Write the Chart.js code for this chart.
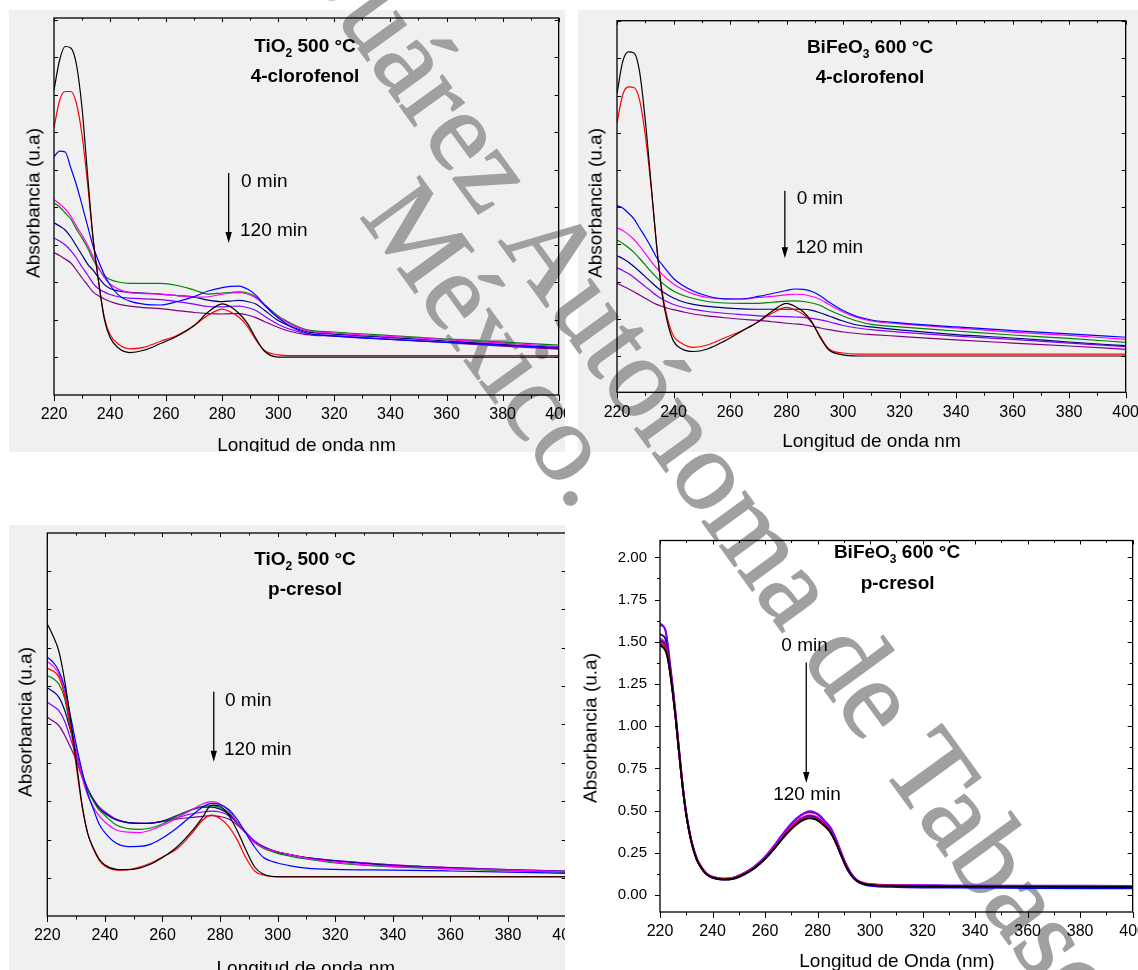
<!DOCTYPE html>
<html>
<head>
<meta charset="utf-8">
<script src="https://cdn.jsdelivr.net/npm/chart.js@4.4.1/dist/chart.umd.min.js"></script>
<style>
  html, body { margin: 0; padding: 0; background: #fff; }
  body { width: 1138px; height: 970px; position: relative; overflow: hidden;
         font-family: "Liberation Sans", Arial, sans-serif; }
  .bg { position: absolute; background: #f0f0f0; z-index: 0; }
  .wm { position: absolute; width: 0; height: 0; transform: rotate(54deg); transform-origin: 0 0; z-index: 1; }
  .wm span { position: absolute; bottom: -18.7px; white-space: nowrap; line-height: 1;
             font-family: "Liberation Serif", "Times New Roman", serif; font-size: 115px; color: #a0a0a0;
             -webkit-text-stroke: 1.5px #a0a0a0; }
  .panel { position: absolute; overflow: hidden; z-index: 2; }
  .panel canvas { position: absolute; left: 0; top: 0; }
  .t { position: absolute; white-space: nowrap; color: #000; font-size: 19px; line-height: 1; }
  .c { transform: translateX(-50%); }
  .b { font-weight: bold; }
  .yt { transform: translate(-50%, -50%) rotate(-90deg); }
  sub { font-size: 12px; vertical-align: -5px; line-height: 0; }
</style>
</head>
<body>

<!-- panel backgrounds (bottom-right panel has none) -->
<div class="bg" style="left:9px;top:10px;width:556px;height:442px"></div>
<div class="bg" style="left:578px;top:10px;width:560px;height:442px"></div>
<div class="bg" style="left:9px;top:525px;width:556px;height:445px"></div>

<!-- watermark, under the plots -->
<div class="wm" style="left:497.6px;top:241.3px">
  <span style="right:0;padding-right:0.25em">Universidad Juárez</span>
  <span style="left:0">Autónoma de Tabasco</span>
</div>
<div class="wm" style="left:358.7px;top:216.3px">
  <span style="left:0;font-size:111px;bottom:-18px">México.</span>
</div>

<div class="panel" style="left:9px;top:10px;width:556px;height:442px">
  <canvas id="c1" width="575" height="442"></canvas>
  <div class="t b c" style="left:296px;top:26px">TiO<sub>2</sub> 500 °C</div>
  <div class="t b c" style="left:296px;top:56px">4-clorofenol</div>
  <div class="t" style="left:232px;top:161px">0 min</div>
  <div class="t" style="left:231px;top:210px">120 min</div>
  <div class="t c" style="left:297.5px;top:424.5px">Longitud de onda nm</div>
  <div class="t yt" style="left:24px;top:193px">Absorbancia (u.a)</div>
</div>

<div class="panel" style="left:578px;top:10px;width:560px;height:442px">
  <canvas id="c2" width="573" height="442"></canvas>
  <div class="t b c" style="left:292px;top:27px">BiFeO<sub>3</sub> 600 °C</div>
  <div class="t b c" style="left:292px;top:57px">4-clorofenol</div>
  <div class="t" style="left:218.7px;top:178px">0 min</div>
  <div class="t" style="left:217.5px;top:226.7px">120 min</div>
  <div class="t c" style="left:293.5px;top:420.5px">Longitud de onda nm</div>
  <div class="t yt" style="left:17px;top:193px">Absorbancia (u.a)</div>
</div>

<div class="panel" style="left:9px;top:525px;width:556px;height:445px">
  <canvas id="c3" width="582" height="445"></canvas>
  <div class="t b c" style="left:296px;top:24.3px">TiO<sub>2</sub> 500 °C</div>
  <div class="t b c" style="left:296px;top:54.3px">p-cresol</div>
  <div class="t" style="left:216px;top:164.6px">0 min</div>
  <div class="t" style="left:215px;top:214.3px">120 min</div>
  <div class="t c" style="left:296.8px;top:432.5px">Longitud de onda nm</div>
  <div class="t yt" style="left:16px;top:197px">Absorbancia (u.a)</div>
</div>

<div class="panel" style="left:575px;top:520px;width:563px;height:450px">
  <canvas id="c4" width="583" height="450"></canvas>
  <div class="t b c" style="left:322px;top:21.6px">BiFeO<sub>3</sub> 600 °C</div>
  <div class="t b c" style="left:322.6px;top:52.6px">p-cresol</div>
  <div class="t c" style="left:229.6px;top:115px">0 min</div>
  <div class="t c" style="left:232px;top:264px">120 min</div>
  <div class="t c" style="left:322px;top:430.5px">Longitud de Onda (nm)</div>
  <div class="t yt" style="left:15px;top:208px">Absorbancia (u.a)</div>
</div>

<script>
// curve colours, first spectrum (0 min) to last (120 min)
const CURVE_COLORS = ["#000000", "#ff0000", "#0000ff", "#ff00ff", "#008000", "#000080", "#8000ff", "#800080"];

// wavelength axis
const X_TICKS = [220, 240, 260, 280, 300, 320, 340, 360, 380, 400];
const X_MINOR = [230, 250, 270, 290, 310, 330, 350, 370, 390];
const Y_TICKS = [0, 0.25, 0.5, 0.75, 1.0, 1.25, 1.5, 1.75, 2.0, 2.25];
const Y_MINOR_D = [0.125, 0.375, 0.625, 0.875, 1.125, 1.375, 1.625, 1.875];

// ---- TiO2 500 °C, 4-clorofenol (arbitrary units) ----
const NM_A = [220, 222, 224, 226, 228, 230, 232, 234, 236, 238, 240, 243, 247, 252, 258, 264,
              270, 275, 280, 283, 286, 289, 292, 295, 300, 305, 310, 320, 340, 360, 380, 400];
const tio2Cloro_black   = [1.78, 1.98, 2.07, 2.06, 1.95, 1.66, 1.21, 0.78, 0.49, 0.25, 0.13, 0.06, 0.03, 0.045, 0.09, 0.14,
                           0.21, 0.30, 0.355, 0.335, 0.29, 0.225, 0.125, 0.04, 0, 0, 0, 0, 0, 0, 0, 0];
const tio2Cloro_red     = [1.53, 1.71, 1.77, 1.77, 1.69, 1.48, 1.15, 0.78, 0.49, 0.26, 0.15, 0.085, 0.055, 0.065, 0.105, 0.145,
                           0.21, 0.28, 0.32, 0.30, 0.265, 0.205, 0.115, 0.045, 0.015, 0.01, 0.01, 0.01, 0.01, 0.01, 0.01, 0.01];
const tio2Cloro_blue    = [1.335, 1.373, 1.367, 1.26, 1.147, 1.013, 0.873, 0.735, 0.633, 0.547, 0.48, 0.413, 0.373, 0.353, 0.347, 0.37,
                           0.403, 0.44, 0.463, 0.471, 0.473, 0.453, 0.413, 0.347, 0.26, 0.197, 0.16, 0.14, 0.117, 0.097, 0.08, 0.063];
const tio2Cloro_magenta = [1.051, 1.02, 0.987, 0.94, 0.873, 0.813, 0.747, 0.667, 0.593, 0.527, 0.487, 0.453, 0.43, 0.423, 0.42, 0.41,
                           0.40, 0.402, 0.42, 0.427, 0.43, 0.42, 0.393, 0.347, 0.267, 0.213, 0.177, 0.16, 0.137, 0.117, 0.093, 0.07];
const tio2Cloro_green   = [1.027, 1.0, 0.96, 0.92, 0.853, 0.793, 0.727, 0.647, 0.587, 0.54, 0.517, 0.50, 0.491, 0.491, 0.491, 0.477,
                           0.447, 0.42, 0.427, 0.43, 0.435, 0.427, 0.402, 0.353, 0.273, 0.22, 0.183, 0.167, 0.143, 0.12, 0.10, 0.08];
const tio2Cloro_navy    = [0.895, 0.873, 0.847, 0.80, 0.74, 0.68, 0.62, 0.577, 0.527, 0.483, 0.457, 0.44, 0.431, 0.427, 0.42, 0.41,
                           0.40, 0.38, 0.37, 0.373, 0.378, 0.37, 0.353, 0.313, 0.243, 0.20, 0.17, 0.153, 0.13, 0.107, 0.083, 0.06];
const tio2Cloro_violet  = [0.793, 0.773, 0.747, 0.71, 0.66, 0.60, 0.547, 0.49, 0.453, 0.433, 0.417, 0.402, 0.393, 0.388, 0.383, 0.37,
                           0.353, 0.337, 0.335, 0.338, 0.34, 0.33, 0.31, 0.273, 0.217, 0.18, 0.157, 0.143, 0.12, 0.10, 0.08, 0.06];
const tio2Cloro_purple  = [0.695, 0.677, 0.653, 0.627, 0.58, 0.527, 0.48, 0.433, 0.407, 0.387, 0.37, 0.353, 0.34, 0.33, 0.323, 0.31,
                           0.297, 0.29, 0.287, 0.289, 0.29, 0.28, 0.263, 0.237, 0.197, 0.167, 0.15, 0.14, 0.117, 0.097, 0.073, 0.053];

// ---- BiFeO3 600 °C, 4-clorofenol (same wavelengths) ----
const bfoCloro_black   = [1.765, 1.976, 2.043, 2.036, 1.909, 1.586, 1.169, 0.746, 0.41, 0.215, 0.10, 0.047, 0.03, 0.047, 0.10, 0.165,
                          0.23, 0.302, 0.353, 0.333, 0.296, 0.228, 0.121, 0.04, 0.007, 0, 0, 0, 0, 0, 0, 0];
const bfoCloro_red     = [1.568, 1.754, 1.808, 1.804, 1.72, 1.485, 1.149, 0.746, 0.43, 0.242, 0.134, 0.084, 0.058, 0.074, 0.121, 0.168,
                          0.23, 0.289, 0.327, 0.309, 0.279, 0.222, 0.128, 0.047, 0.02, 0.013, 0.013, 0.013, 0.013, 0.013, 0.013, 0.013];
const bfoCloro_blue    = [1.01, 0.995, 0.961, 0.921, 0.86, 0.80, 0.733, 0.662, 0.612, 0.565, 0.521, 0.477, 0.437, 0.403, 0.384, 0.383,
                          0.40, 0.42, 0.44, 0.45, 0.448, 0.433, 0.403, 0.363, 0.306, 0.265, 0.242, 0.222, 0.195, 0.171, 0.148, 0.126];
const bfoCloro_magenta = [0.862, 0.843, 0.817, 0.783, 0.739, 0.69, 0.638, 0.591, 0.548, 0.514, 0.484, 0.45, 0.417, 0.393, 0.383, 0.383,
                          0.393, 0.401, 0.411, 0.415, 0.413, 0.40, 0.38, 0.346, 0.296, 0.259, 0.235, 0.216, 0.188, 0.161, 0.138, 0.112];
const bfoCloro_green   = [0.78, 0.756, 0.729, 0.696, 0.655, 0.612, 0.568, 0.528, 0.491, 0.46, 0.437, 0.41, 0.386, 0.366, 0.356, 0.353,
                          0.354, 0.361, 0.368, 0.37, 0.366, 0.356, 0.339, 0.309, 0.269, 0.235, 0.212, 0.195, 0.168, 0.141, 0.118, 0.092];
const bfoCloro_navy    = [0.674, 0.655, 0.632, 0.601, 0.568, 0.533, 0.497, 0.464, 0.433, 0.41, 0.39, 0.366, 0.347, 0.333, 0.323, 0.317,
                          0.314, 0.314, 0.314, 0.314, 0.314, 0.306, 0.289, 0.269, 0.235, 0.208, 0.195, 0.175, 0.144, 0.121, 0.094, 0.069];
const bfoCloro_violet  = [0.593, 0.575, 0.554, 0.528, 0.497, 0.466, 0.437, 0.407, 0.383, 0.363, 0.346, 0.329, 0.313, 0.299, 0.287, 0.278,
                          0.27, 0.267, 0.264, 0.262, 0.26, 0.253, 0.243, 0.23, 0.205, 0.188, 0.177, 0.161, 0.134, 0.111, 0.087, 0.063];
const bfoCloro_purple  = [0.489, 0.47, 0.452, 0.432, 0.41, 0.388, 0.366, 0.347, 0.333, 0.321, 0.311, 0.298, 0.282, 0.269, 0.257, 0.247,
                          0.239, 0.23, 0.22, 0.215, 0.21, 0.20, 0.188, 0.177, 0.161, 0.151, 0.144, 0.132, 0.108, 0.087, 0.067, 0.045];

// ---- TiO2 500 °C, p-cresol ----
const NM_C = [220, 222, 224, 226, 228, 230, 232, 234, 236, 238, 240, 244, 248, 252, 256, 260, 265,
              270, 274, 277, 280, 283, 286, 289, 292, 295, 300, 305, 310, 320, 340, 360, 380, 400];
const tio2Cres_black   = [1.654, 1.576, 1.478, 1.289, 1.042, 0.768, 0.486, 0.293, 0.195, 0.124, 0.085, 0.057, 0.055, 0.065, 0.091, 0.133, 0.202,
                          0.30, 0.397, 0.475, 0.469, 0.407, 0.306, 0.182, 0.072, 0.026, 0.008, 0.008, 0.008, 0.008, 0.008, 0.008, 0.008, 0.008];
const tio2Cres_red     = [1.365, 1.348, 1.309, 1.191, 0.996, 0.736, 0.475, 0.293, 0.189, 0.117, 0.078, 0.052, 0.055, 0.072, 0.098, 0.137, 0.189,
                          0.286, 0.378, 0.41, 0.387, 0.334, 0.247, 0.13, 0.046, 0.02, 0.01, 0.01, 0.01, 0.01, 0.01, 0.01, 0.01, 0.01];
const tio2Cres_blue    = [1.437, 1.406, 1.348, 1.243, 1.061, 0.872, 0.703, 0.553, 0.449, 0.352, 0.296, 0.226, 0.205, 0.206, 0.221, 0.26, 0.326,
                          0.404, 0.462, 0.486, 0.479, 0.446, 0.381, 0.29, 0.202, 0.135, 0.098, 0.078, 0.065, 0.056, 0.052, 0.046, 0.039, 0.031];
const tio2Cres_magenta = [1.408, 1.38, 1.328, 1.211, 1.016, 0.833, 0.66, 0.54, 0.462, 0.404, 0.365, 0.313, 0.299, 0.296, 0.313, 0.342, 0.391,
                          0.443, 0.482, 0.497, 0.482, 0.436, 0.365, 0.293, 0.231, 0.199, 0.171, 0.15, 0.13, 0.104, 0.076, 0.062, 0.052, 0.041];
const tio2Cres_green   = [1.317, 1.299, 1.263, 1.172, 0.977, 0.833, 0.682, 0.573, 0.501, 0.443, 0.407, 0.345, 0.322, 0.317, 0.326, 0.352, 0.404,
                          0.446, 0.467, 0.471, 0.459, 0.426, 0.361, 0.293, 0.231, 0.195, 0.161, 0.14, 0.124, 0.098, 0.072, 0.059, 0.049, 0.037];
const tio2Cres_navy    = [1.239, 1.214, 1.178, 1.094, 0.964, 0.82, 0.682, 0.579, 0.508, 0.452, 0.42, 0.378, 0.361, 0.356, 0.358, 0.371, 0.407,
                          0.443, 0.462, 0.462, 0.449, 0.417, 0.358, 0.293, 0.231, 0.202, 0.169, 0.15, 0.133, 0.111, 0.081, 0.065, 0.052, 0.041];
const tio2Cres_violet  = [1.144, 1.12, 1.09, 1.022, 0.911, 0.801, 0.682, 0.583, 0.514, 0.462, 0.43, 0.382, 0.361, 0.356, 0.358, 0.369, 0.394,
                          0.417, 0.43, 0.436, 0.43, 0.407, 0.358, 0.299, 0.241, 0.205, 0.169, 0.15, 0.133, 0.113, 0.085, 0.068, 0.055, 0.046];
const tio2Cres_purple  = [1.046, 1.022, 0.993, 0.931, 0.853, 0.768, 0.66, 0.579, 0.511, 0.462, 0.43, 0.382, 0.361, 0.356, 0.358, 0.368, 0.384,
                          0.394, 0.402, 0.406, 0.40, 0.384, 0.345, 0.293, 0.239, 0.205, 0.169, 0.15, 0.133, 0.114, 0.086, 0.068, 0.055, 0.046];

// ---- BiFeO3 600 °C, p-cresol (absorbance) ----
const NM_D = [220, 222, 223, 224, 225, 226, 227, 228, 229, 230, 232, 234, 236, 238, 240, 244, 248, 252, 256, 260,
              264, 268, 272, 275, 277, 279, 281, 283, 285, 287, 289, 291, 293, 295, 298, 302, 310, 330, 360, 400];
const bfoCres_black   = [1.48, 1.45, 1.40, 1.30, 1.18, 1.04, 0.88, 0.73, 0.59, 0.475, 0.312, 0.21, 0.155, 0.12, 0.104, 0.093, 0.098, 0.123, 0.16, 0.215,
                         0.285, 0.36, 0.42, 0.448, 0.455, 0.45, 0.432, 0.405, 0.37, 0.31, 0.235, 0.165, 0.115, 0.085, 0.065, 0.058, 0.055, 0.052, 0.05, 0.048];
const bfoCres_red     = [1.50, 1.47, 1.41, 1.30, 1.18, 1.04, 0.88, 0.73, 0.59, 0.475, 0.312, 0.21, 0.155, 0.12, 0.104, 0.094, 0.099, 0.124, 0.162, 0.217,
                         0.288, 0.365, 0.427, 0.455, 0.462, 0.456, 0.438, 0.408, 0.373, 0.312, 0.236, 0.166, 0.116, 0.086, 0.066, 0.059, 0.056, 0.053, 0.051, 0.05];
const bfoCres_blue    = [1.51, 1.48, 1.41, 1.305, 1.185, 1.045, 0.885, 0.732, 0.592, 0.477, 0.313, 0.211, 0.155, 0.12, 0.103, 0.092, 0.097, 0.123, 0.161, 0.217,
                         0.288, 0.366, 0.43, 0.46, 0.468, 0.462, 0.444, 0.413, 0.377, 0.315, 0.238, 0.166, 0.114, 0.082, 0.06, 0.052, 0.048, 0.044, 0.042, 0.04];
const bfoCres_magenta = [1.52, 1.49, 1.42, 1.31, 1.19, 1.05, 0.89, 0.735, 0.595, 0.48, 0.316, 0.214, 0.158, 0.123, 0.106, 0.095, 0.1, 0.126, 0.164, 0.22,
                         0.292, 0.372, 0.436, 0.466, 0.474, 0.468, 0.45, 0.418, 0.382, 0.32, 0.243, 0.17, 0.118, 0.087, 0.067, 0.06, 0.057, 0.054, 0.052, 0.05];
const bfoCres_green   = [1.49, 1.46, 1.40, 1.30, 1.18, 1.04, 0.88, 0.73, 0.59, 0.475, 0.312, 0.21, 0.155, 0.12, 0.104, 0.093, 0.098, 0.123, 0.161, 0.216,
                         0.286, 0.362, 0.424, 0.452, 0.46, 0.454, 0.436, 0.406, 0.371, 0.311, 0.236, 0.166, 0.116, 0.086, 0.066, 0.059, 0.056, 0.053, 0.05, 0.048];
const bfoCres_navy    = [1.545, 1.52, 1.44, 1.32, 1.19, 1.05, 0.89, 0.735, 0.595, 0.478, 0.314, 0.212, 0.156, 0.121, 0.104, 0.093, 0.098, 0.123, 0.16, 0.214,
                         0.284, 0.36, 0.42, 0.45, 0.457, 0.452, 0.434, 0.405, 0.37, 0.31, 0.235, 0.165, 0.115, 0.084, 0.064, 0.057, 0.054, 0.051, 0.05, 0.048];
const bfoCres_violet  = [1.61, 1.57, 1.47, 1.34, 1.21, 1.06, 0.90, 0.745, 0.60, 0.485, 0.32, 0.218, 0.16, 0.125, 0.108, 0.097, 0.103, 0.13, 0.17, 0.228,
                         0.305, 0.388, 0.455, 0.488, 0.497, 0.49, 0.47, 0.435, 0.40, 0.335, 0.255, 0.18, 0.125, 0.09, 0.07, 0.063, 0.06, 0.058, 0.056, 0.055];
const bfoCres_purple  = [1.60, 1.575, 1.48, 1.35, 1.22, 1.07, 0.91, 0.75, 0.605, 0.49, 0.322, 0.22, 0.162, 0.126, 0.109, 0.098, 0.104, 0.131, 0.17, 0.226,
                         0.30, 0.383, 0.45, 0.483, 0.49, 0.485, 0.465, 0.43, 0.395, 0.33, 0.25, 0.178, 0.124, 0.09, 0.07, 0.062, 0.058, 0.055, 0.053, 0.05];

// arrow annotations: [wavelength, start absorbance, end absorbance]
const ARROW_A = [282.3, 1.227, 0.76];
const ARROW_B = [279.4, 1.111, 0.657];
const ARROW_C = [277.8, 1.213, 0.757];
const ARROW_D = [275.7, 1.377, 0.664];

/* frame, tick marks and the time arrow, drawn from the scales */
const frameTicks = {
  id: "frameTicks",
  afterDatasetsDraw(chart, args, o) {
    const { ctx, chartArea: a, scales: { x, y } } = chart;
    ctx.save();
    ctx.strokeStyle = "#000";
    ctx.lineWidth = 1.3;
    ctx.strokeRect(a.left, a.top, a.right - a.left, a.bottom - a.top);

    ctx.lineWidth = 1;
    ctx.beginPath();
    const xt = (v, len) => {
      const px = Math.round(x.getPixelForValue(v)) + 0.5;
      ctx.moveTo(px, a.bottom); ctx.lineTo(px, a.bottom + len);
      ctx.moveTo(px, a.top); ctx.lineTo(px, a.top + (len > 4 ? 4 : 2.5));
    };
    X_TICKS.forEach(v => xt(v, 6));
    X_MINOR.forEach(v => xt(v, 3.5));

    const yt = (v, len) => {
      if (v < y.min || v > y.max) return;
      const py = Math.round(y.getPixelForValue(v)) + 0.5;
      const outLeft = o.yOut ? -len : len;
      ctx.moveTo(a.left, py); ctx.lineTo(a.left + outLeft, py);
      ctx.moveTo(a.right, py); ctx.lineTo(a.right - len, py);
    };
    Y_TICKS.forEach(v => yt(v, o.yOut ? 5 : 4));
    (o.yMinor || []).forEach(v => yt(v, 3));
    ctx.stroke();

    // arrow from 0 min down to 120 min
    const [aw, a0, a1] = o.arrow;
    const ax = x.getPixelForValue(aw);
    const ay0 = y.getPixelForValue(a0), ay1 = y.getPixelForValue(a1);
    ctx.lineWidth = 1.3;
    ctx.beginPath();
    ctx.moveTo(ax, ay0); ctx.lineTo(ax, ay1 - 8);
    ctx.stroke();
    ctx.fillStyle = "#000";
    ctx.beginPath();
    ctx.moveTo(ax, ay1); ctx.lineTo(ax - 3.2, ay1 - 11); ctx.lineTo(ax + 3.2, ay1 - 11);
    ctx.closePath(); ctx.fill();
    ctx.restore();
  }
};

// chart.js keeps 25px on the right for the last x label, so the canvas is
// made that much wider than the plot and the panel box clips the rest
function buildPanel(id, nm, series, p) {
  const canvas = document.getElementById(id);
  const H = canvas.height;
  const datasets = series.map((s, i) => ({
    data: nm.map((w, k) => ({ x: w, y: s[k] })),
    borderColor: CURVE_COLORS[i],
    borderWidth: p.lw,
    pointRadius: 0,
    fill: false,
    cubicInterpolationMode: "monotone"
  }));
  const xFont = { family: "'Liberation Sans', Arial, sans-serif", size: 16, lineHeight: 1 };
  const yFont = { family: "'Liberation Sans', Arial, sans-serif", size: 15, lineHeight: 1 };
  return new Chart(canvas, {
    type: "line",
    data: { datasets },
    options: {
      responsive: false,
      animation: false,
      devicePixelRatio: 1,
      events: [],
      layout: { autoPadding: false, padding: { left: 0, top: p.top, right: 0, bottom: 0 } },
      plugins: {
        legend: { display: false },
        tooltip: { enabled: false },
        frameTicks: { arrow: p.arrow, yOut: p.yLabels, yMinor: p.yMinor }
      },
      scales: {
        x: {
          type: "linear", min: 220, max: 400,
          grid: { display: false, drawTicks: false }, border: { display: false },
          ticks: { color: "#000", font: xFont, padding: 12, maxRotation: 0, autoSkip: false, callback: v => String(v) },
          afterBuildTicks: s => { s.ticks = X_TICKS.map(v => ({ value: v })); },
          afterFit: s => { s.height = H - p.bottom; }
        },
        y: {
          type: "linear", min: p.ymin, max: p.ymax,
          grid: { display: false, drawTicks: false }, border: { display: false },
          ticks: { display: p.yLabels, color: "#000", font: yFont, padding: 13, callback: v => v.toFixed(2) },
          afterBuildTicks: s => { s.ticks = Y_TICKS.filter(v => v <= p.ymax).map(v => ({ value: v })); },
          afterFit: s => { s.width = p.left; }
        }
      }
    },
    plugins: [frameTicks]
  });
}

buildPanel("c1", NM_A,
  [tio2Cloro_black, tio2Cloro_red, tio2Cloro_blue, tio2Cloro_magenta, tio2Cloro_green, tio2Cloro_navy, tio2Cloro_violet, tio2Cloro_purple],
  { left: 45, top: 8, bottom: 385, ymin: -0.253, ymax: 2.26, lw: 1.2, yLabels: false, arrow: ARROW_A });

buildPanel("c2", NM_A,
  [bfoCloro_black, bfoCloro_red, bfoCloro_blue, bfoCloro_magenta, bfoCloro_green, bfoCloro_navy, bfoCloro_violet, bfoCloro_purple],
  { left: 39, top: 10.7, bottom: 382.3, ymin: -0.244, ymax: 2.253, lw: 1.2, yLabels: false, arrow: ARROW_B });

buildPanel("c3", NM_C,
  [tio2Cres_black, tio2Cres_red, tio2Cres_blue, tio2Cres_magenta, tio2Cres_green, tio2Cres_navy, tio2Cres_violet, tio2Cres_purple],
  { left: 38.3, top: 8, bottom: 391, ymin: -0.247, ymax: 2.246, lw: 1.2, yLabels: false, arrow: ARROW_C });

buildPanel("c4", NM_D,
  [bfoCres_black, bfoCres_red, bfoCres_blue, bfoCres_magenta, bfoCres_green, bfoCres_navy, bfoCres_violet, bfoCres_purple],
  { left: 85, top: 12, bottom: 392, ymin: -0.1, ymax: 2.1, lw: 1.8, yLabels: true, yMinor: Y_MINOR_D, arrow: ARROW_D });
</script>
</body>
</html>
